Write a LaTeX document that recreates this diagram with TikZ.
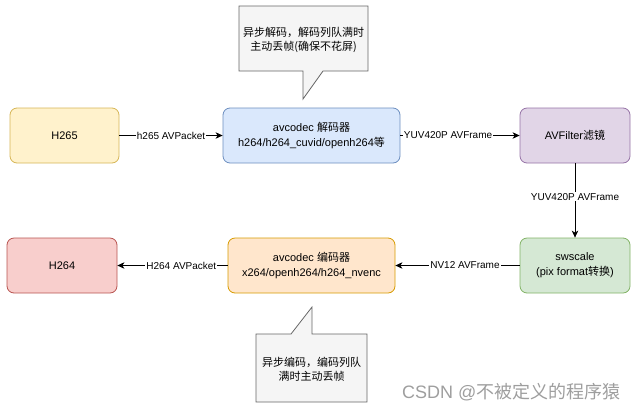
\documentclass[tikz,border=0pt]{standalone}
\usepackage{fontspec}
\setmainfont{Liberation Sans}
\newfontfamily\cjk{Noto Sans CJK SC}
\usetikzlibrary{positioning,arrows.meta}

\definecolor{yfill}{HTML}{FFF2CC}
\definecolor{ydraw}{HTML}{D6B656}
\definecolor{bfill}{HTML}{DAE8FC}
\definecolor{bdraw}{HTML}{6C8EBF}
\definecolor{pfill}{HTML}{E1D5E7}
\definecolor{pdraw}{HTML}{9673A6}
\definecolor{gfill}{HTML}{D5E8D4}
\definecolor{gdraw}{HTML}{82B366}
\definecolor{ofill}{HTML}{FFE6CC}
\definecolor{odraw}{HTML}{D79B00}
\definecolor{rfill}{HTML}{F8CECC}
\definecolor{rdraw}{HTML}{B85450}
\definecolor{notefill}{HTML}{F5F5F5}
\definecolor{notedraw}{HTML}{666666}

\begin{document}
\begin{tikzpicture}[x=1pt,y=-1pt,
  box/.style={draw, rounded corners=7pt, minimum height=55pt, align=center,
    line width=0.8pt, font=\fontsize{11}{15}\selectfont},
  flow/.style={-{Stealth[length=7pt,width=6.5pt,inset=2pt]}, line width=0.8pt},
  lbl/.style={fill=white, inner sep=1pt, font=\fontsize{10}{12}\selectfont},
  note/.style={draw=notedraw, fill=notefill, line width=0.8pt},
  notetext/.style={align=center, font=\fontsize{11}{14}\selectfont}]
\useasboundingbox (0,0) rectangle (639,413);

% top row
\node[box, fill=yfill, draw=ydraw, minimum width=109pt] (h265) at (64.5,135.5) {H265};
\node[box, fill=bfill, draw=bdraw, minimum width=177pt] (dec) at (311.5,135.5)
  {avcodec {\cjk 解码器}\\h264/h264\_cuvid/openh264{\cjk 等}};
\node[box, fill=pfill, draw=pdraw, minimum width=110pt] (filt) at (575,135.5)
  {AVFilter{\cjk 滤镜}};

% bottom row
\node[box, fill=gfill, draw=gdraw, minimum width=110pt] (sws) at (575,265.5)
  {swscale\\(pix format{\cjk 转换})};
\node[box, fill=ofill, draw=odraw, minimum width=167pt] (enc) at (311.5,265.5)
  {avcodec {\cjk 编码器}\\x264/openh264/h264\_nvenc};
\node[box, fill=rfill, draw=rdraw, minimum width=110pt] (h264) at (62,265.5) {H264};

% callouts
\draw[note] (239,6) -- (368,6) -- (368,71) -- (323,71) -- (303,99) -- (303,71)
  -- (239,71) -- cycle;
\node[notetext] (decnote) at (303.5,40)
  {\cjk 异步解码，解码列队满时\\\cjk 主动丢帧(确保不花屏)};
\draw[note] (256,334) -- (291,334) -- (312,307) -- (312,334) -- (367,334)
  -- (367,402) -- (256,402) -- cycle;
\node[notetext] (encnote) at (311.5,369.5)
  {\cjk 异步编码，编码列队\\\cjk 满时主动丢帧};

% flow
\draw[flow] (h265) -- node[lbl] {h265 AVPacket} (dec);
\draw[flow] (dec) -- node[lbl, pos=0.4] {YUV420P AVFrame} (filt);
\draw[flow] (filt) -- node[lbl, pos=0.45] {YUV420P AVFrame} (sws);
\draw[flow] (sws) -- node[lbl, pos=0.44] {NV12 AVFrame} (enc);
\draw[flow] (enc) -- node[lbl, pos=0.42] {H264 AVPacket} (h264);

\node[text=black!38, anchor=east, font=\fontsize{18}{18}\selectfont] (mark) at (624,392)
  {CSDN @{\cjk 不被定义的程序猿}};
\end{tikzpicture}
\end{document}
